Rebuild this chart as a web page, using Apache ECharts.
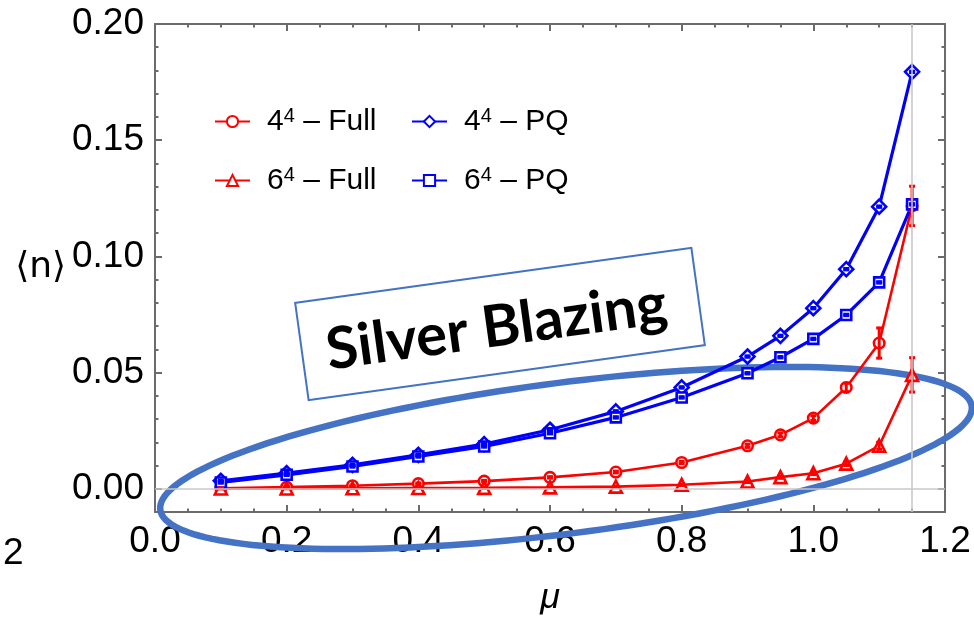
<!DOCTYPE html>
<html>
<head>
<meta charset="utf-8">
<script src="https://cdn.jsdelivr.net/npm/echarts@6/dist/echarts.min.js"></script>
<style>
  html, body { margin: 0; padding: 0; background: #ffffff; }
  #chart { width: 974px; height: 620px; }
</style>
</head>
<body>
<div id="chart"></div>
<script>
// Chemical potential values
const mu = [0.1, 0.2, 0.3, 0.4, 0.5, 0.6, 0.7, 0.8, 0.9, 0.95, 1.0, 1.05, 1.1, 1.15];

// <n> for the full theory
const full4 = [0.0002, 0.0007, 0.0013, 0.0022, 0.0033, 0.0049, 0.0072, 0.0113, 0.0185, 0.0232, 0.0304, 0.0436, 0.0627, 0.1217];
const full4Err = [0.0002, 0.0002, 0.0002, 0.0003, 0.0003, 0.0003, 0.0004, 0.0005, 0.0007, 0.0008, 0.0010, 0.0018, 0.0065, 0.0085];
const full6 = [0.0001, 0.0001, 0.0002, 0.0003, 0.0004, 0.0006, 0.0009, 0.0017, 0.0031, 0.0050, 0.0067, 0.0108, 0.0185, 0.0490];
const full6Err = [0.0001, 0.0001, 0.0001, 0.0002, 0.0002, 0.0002, 0.0002, 0.0003, 0.0004, 0.0005, 0.0006, 0.0008, 0.0015, 0.0074];

// <n> for the phase-quenched theory
const pq4 = [0.0034, 0.0067, 0.0103, 0.0146, 0.0192, 0.0254, 0.0333, 0.0436, 0.0569, 0.0658, 0.0777, 0.0945, 0.1214, 0.1794];
const pq4Err = [0.0003, 0.0003, 0.0003, 0.0003, 0.0003, 0.0003, 0.0003, 0.0003, 0.0003, 0.0003, 0.0003, 0.0003, 0.0003, 0.0003];
const pq6 = [0.0027, 0.0060, 0.0096, 0.0139, 0.0182, 0.0239, 0.0307, 0.0393, 0.0497, 0.0566, 0.0645, 0.0748, 0.0888, 0.1224];
const pq6Err = [0.0003, 0.0003, 0.0003, 0.0003, 0.0003, 0.0003, 0.0003, 0.0003, 0.0003, 0.0003, 0.0003, 0.0003, 0.0003, 0.0003];

// Axis ticks
const yMajor = [0, 0.05, 0.10, 0.15, 0.20];
const yMinor = [-0.01, 0.01, 0.02, 0.03, 0.04, 0.06, 0.07, 0.08, 0.09, 0.11, 0.12, 0.13, 0.14, 0.16, 0.17, 0.18, 0.19];

const names = ['4^4 – Full', '6^4 – Full', '4^4 – PQ', '6^4 – PQ'];

const RED = '#ff0000';
const BLUE = '#0000ff';
const FRAME = '#6b6b6b';
const FONT = '"Liberation Sans", Arial, sans-serif';

const pairs = (ys) => mu.map((x, i) => [x, ys[i]]);
const triples = (ys, es) => mu.map((x, i) => [x, ys[i], es[i]]);

function errorBars(color) {
  return function (params, api) {
    const x = api.value(0), y = api.value(1), e = api.value(2);
    const lo = api.coord([x, y - e]);
    const hi = api.coord([x, y + e]);
    const w = 3;
    const st = { stroke: color, lineWidth: 3 };
    return {
      type: 'group',
      children: [
        { type: 'line', shape: { x1: lo[0], y1: lo[1] + 1, x2: hi[0], y2: hi[1] - 1 }, style: st },
        { type: 'line', shape: { x1: lo[0] - w, y1: lo[1], x2: lo[0] + w, y2: lo[1] }, style: st },
        { type: 'line', shape: { x1: hi[0] - w, y1: hi[1], x2: hi[0] + w, y2: hi[1] }, style: st }
      ]
    };
  };
}

function lineSeries(name, ys, color, symbol, size, width) {
  return {
    name: name,
    type: 'line',
    data: pairs(ys),
    z: 3,
    symbol: symbol,
    symbolSize: size,
    showAllSymbol: true,
    lineStyle: { color: color, width: width },
    itemStyle: { color: '#ffffff', borderColor: color, borderWidth: 2.6 },
    emphasis: { disabled: true },
    animation: false
  };
}

function errSeries(ys, es, color) {
  return {
    type: 'custom',
    data: triples(ys, es),
    renderItem: errorBars(color),
    z: 4,
    silent: true,
    animation: false
  };
}

function legendItem(name, left, top) {
  return {
    data: [name],
    left: left,
    top: top,
    padding: 0,
    itemWidth: 35,
    itemHeight: 14,
    selectedMode: false,
    formatter: function (n) {
      const parts = n.split('^');
      return '{b|' + parts[0] + '}{s|' + parts[1].charAt(0) + '}{t|' + parts[1].slice(1) + '}';
    },
    textStyle: {
      fontFamily: FONT,
      color: '#000',
      rich: {
        b: { fontSize: 30, fontFamily: FONT, color: '#000', padding: [0, 0, 0, 12] },
        s: { fontSize: 20, fontFamily: FONT, color: '#000', padding: [0, 0, 11, 0] },
        t: { fontSize: 30, fontFamily: FONT, color: '#000' }
      }
    }
  };
}

// Outline of the annotation ellipse
const ellipsePts = [];
(function () {
  const cx = 566, cy = 458, a = 409, b = 75.5, phi = 7.27 * Math.PI / 180;
  for (let k = 0; k < 180; k++) {
    const t = 2 * Math.PI * k / 180;
    ellipsePts.push([
      cx + a * Math.cos(t) * Math.cos(phi) + b * Math.sin(t) * Math.sin(phi),
      cy - a * Math.cos(t) * Math.sin(phi) + b * Math.sin(t) * Math.cos(phi)
    ]);
  }
})();

const axisLineStyle = { show: true, onZero: false, lineStyle: { color: FRAME, width: 2 } };
const majorTick = (extra) => Object.assign({ inside: true, length: 7, lineStyle: { color: FRAME, width: 2 } }, extra || {});
const minorTickY = { inside: true, length: 3.5, customValues: yMinor, lineStyle: { color: FRAME, width: 2 } };

const chart = echarts.init(document.getElementById('chart'), null, { renderer: 'canvas' });

chart.setOption({
  backgroundColor: '#ffffff',
  animation: false,
  grid: { left: 155, right: 29, top: 24, bottom: 108, outerBoundsMode: 'none' },
  legend: [
    legendItem(names[0], 214, 106),
    legendItem(names[2], 411, 106),
    legendItem(names[1], 214, 165),
    legendItem(names[3], 411, 165)
  ],
  xAxis: [
    {
      type: 'value', min: 0, max: 1.2, interval: 0.2, position: 'bottom',
      axisLine: axisLineStyle,
      axisTick: majorTick(),
      minorTick: { show: true, splitNumber: 4, length: 3.5, lineStyle: { color: FRAME, width: 2 } },
      splitLine: { show: false },
      axisLabel: { fontSize: 37, fontFamily: FONT, color: '#000', margin: 11, formatter: (v) => v.toFixed(1) },
      name: 'μ', nameLocation: 'middle', nameGap: 68,
      nameTextStyle: { fontSize: 36, fontFamily: FONT, fontStyle: 'italic', color: '#000' }
    },
    {
      type: 'value', min: 0, max: 1.2, interval: 0.2, position: 'top',
      axisLine: axisLineStyle,
      axisTick: majorTick(),
      minorTick: { show: true, splitNumber: 4, length: 3.5, lineStyle: { color: FRAME, width: 2 } },
      splitLine: { show: false },
      axisLabel: { show: false }
    }
  ],
  yAxis: [
    {
      type: 'value', min: -0.01, max: 0.2, position: 'left',
      axisLine: axisLineStyle,
      axisTick: majorTick({ customValues: yMajor }),
      splitLine: { show: false },
      axisLabel: { customValues: yMajor, fontSize: 37, fontFamily: FONT, color: '#000', margin: 11, formatter: (v) => v.toFixed(2) },
      name: '⟨n⟩', nameLocation: 'middle', nameRotate: 0, nameGap: 54,
      nameTextStyle: { fontSize: 36, fontFamily: '"DejaVu Sans", "Liberation Sans", sans-serif', color: '#000' }
    },
    {
      type: 'value', min: -0.01, max: 0.2, position: 'left',
      axisLine: { show: false, onZero: false },
      axisTick: minorTickY,
      splitLine: { show: false },
      axisLabel: { show: false }
    },
    {
      type: 'value', min: -0.01, max: 0.2, position: 'right',
      axisLine: axisLineStyle,
      axisTick: majorTick({ customValues: yMajor }),
      splitLine: { show: false },
      axisLabel: { show: false }
    },
    {
      type: 'value', min: -0.01, max: 0.2, position: 'right',
      axisLine: { show: false, onZero: false },
      axisTick: minorTickY,
      splitLine: { show: false },
      axisLabel: { show: false }
    }
  ],
  series: [
    {
      type: 'line',
      data: [],
      z: 1,
      silent: true,
      markLine: {
        silent: true,
        symbol: ['none', 'none'],
        label: { show: false },
        lineStyle: { color: '#c8c8c8', width: 1.6, type: 'solid' },
        data: [{ yAxis: 0 }, { xAxis: 1.15 }],
        animation: false
      }
    },
    lineSeries(names[0], full4, RED, 'circle', 10.5, 2.6),
    lineSeries(names[1], full6, RED, 'triangle', 12, 2.6),
    lineSeries(names[2], pq4, BLUE, 'diamond', 14, 3.2),
    lineSeries(names[3], pq6, BLUE, 'rect', 10, 3.2),
    errSeries(full4, full4Err, RED),
    errSeries(full6, full6Err, RED),
    errSeries(pq4, pq4Err, BLUE),
    errSeries(pq6, pq6Err, BLUE)
  ],
  graphic: [
    {
      type: 'polygon',
      z: 2,
      silent: true,
      shape: { points: ellipsePts },
      style: { fill: 'none', stroke: '#4472c4', lineWidth: 6.5 }
    },
    {
      type: 'group',
      x: 500,
      y: 324,
      rotation: 7.9 * Math.PI / 180,
      z: 10,
      children: [
        {
          type: 'rect',
          shape: { x: -200, y: -49, width: 400, height: 98 },
          style: { fill: '#ffffff', stroke: '#4472c4', lineWidth: 2 }
        },
        {
          type: 'text',
          x: -4,
          y: 3,
          style: {
            text: 'Silver Blazing',
            font: 'bold 58px Lato, "Open Sans", sans-serif',
            fill: '#000000',
            align: 'center',
            verticalAlign: 'middle'
          }
        }
      ]
    },
    {
      type: 'text',
      x: 3,
      y: 554,
      style: {
        text: '2',
        font: '37px "Liberation Sans", Arial, sans-serif',
        fill: '#000000',
        align: 'left',
        verticalAlign: 'middle'
      }
    }
  ]
});
</script>
</body>
</html>
